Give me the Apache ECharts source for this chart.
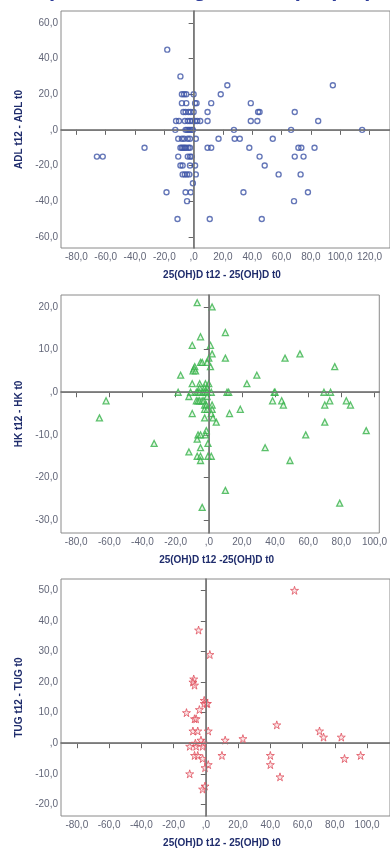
<!DOCTYPE html>
<html>
<head>
<meta charset="utf-8">
<script src="https://cdn.jsdelivr.net/npm/echarts@6/dist/echarts.min.js"></script>
<style>
  html, body { margin: 0; padding: 0; background: #fff; }
  #chart { width: 390px; height: 849px; }
</style>
</head>
<body>
<div id="chart"></div>
<script>
// ADL panel
const adlX = [-18, -9, 23, 95, -8, -6.5, -5, 0, 18.5, -8, -5, 1, 2, 12, 39,
  -7, -5.5, -3.5, -2, 0, 9.5, 44, 45, 69,
  -12, -10, -6, -4, -2.5, -1, 1, 2.5, 4.5, 9.5, 39, 43.5, 85,
  -12.5, -5.5, -4.5, -3.5, -2.5, -1.5, -0.5, 27.5, 66.5, 115,
  -10.5, -8, -6.5, -4, -2.5, 1.5, 17, 28, 31.5, 54,
  -33.5, -9, -8, -7, -6, -5, -3.5, -2.5, 9.5, 12, 38, 71.5, 73.5, 82.5,
  -66, -62, -10.5, -4, -2.5, -1.5, 45, 69, 75,
  -9, -7.5, -2.5, 1, 48.5,
  -7.5, -6, -4.5, -3, 1.5, 58, 73,
  -0.5, -18.5, -5.5, -2, 34, 78, -4.5, 68.5, -11, 11, 46.5];
const adlY = [45, 30, 25, 25, 20, 20, 20, 20, 20, 15, 15, 15, 15, 15, 15,
  10, 10, 10, 10, 10, 10, 10, 10, 10,
  5, 5, 5, 5, 5, 5, 5, 5, 5, 5, 5, 5, 5,
  0, 0, 0, 0, 0, 0, 0, 0, 0, 0,
  -5, -5, -5, -5, -5, -5, -5, -5, -5, -5,
  -10, -10, -10, -10, -10, -10, -10, -10, -10, -10, -10, -10, -10, -10,
  -15, -15, -15, -15, -15, -15, -15, -15, -15,
  -20, -20, -20, -20, -20,
  -25, -25, -25, -25, -25, -25, -25,
  -30, -35, -35, -35, -35, -35, -40, -40, -50, -50, -50];

// HK panel
const hkX = [-7, 2, 10, -5, -10, 1, 2, 55, 10, 46, 0, -5, -4, -1, 1, 76, -8.5, -9, -9.5, -8,
  -17, 29, -10, -5.5, -2, 0, 23, -5.5, -2.5, -1,
  -18.5, -11, -7.5, -6.5, -5.5, -3.5, -2.5, -1.5, -1, 1.5, 11, 12, 39.5, 40, 69.5, 73.5,
  -12, -1,
  -62, -7.5, -6.5, -5.5, -4, -3, 38.5, 44, 73, 83,
  -2.5, -1.5, 2, 45, 70, 85.5,
  -2.5, -1, 2, 19,
  -10, 1.5, 12.5,
  -66, -2.5, 2.5, 4.5, 70,
  95, -1.5, -6.5, -5, -2, 58.5,
  -7, -33, -0.5, -5, 34, -12, -7, -5, -0.5, 1.5, -5, 49, 10, -4, 79];
const hkY = [21, 20, 14, 13, 11, 11, 9, 9, 8, 8, 8, 7, 7, 7, 6, 6, 6, 5.5, 5, 5,
  4, 4, 2, 2, 2, 2, 2, 1, 1, 1,
  0, 0, 0, 0, 0, 0, 0, 0, 0, 0, 0, 0, 0, 0, 0, 0,
  -1, -1,
  -2, -2, -2, -2, -2, -2, -2, -2, -2, -2,
  -3, -3, -3, -3, -3, -3,
  -4, -4, -4, -4,
  -5, -5, -5,
  -6, -6, -6, -7, -7,
  -9, -9, -10, -10, -10, -10,
  -11, -12, -12, -13, -13, -14, -15, -15, -15, -15, -16, -16, -23, -27, -26];

// TUG panel
const tugX = [55, -4.5, 2.5, -7.5, -8, -7, -1, 0.5, -4, -12, -1, 1, -7, -6,
  -8, -5, 1.5, 44, 70.5, 73, 84, 12, 23, -3, -6.5, -1.5,
  -10, -6, -2, -7, -5, 10, 40, 96, -2, 86, 40, 1.5, -0.5, -10, 46, -0.5, -2];
const tugY = [50, 37, 29, 21, 20, 19, 14, 13, 11, 10, 13, 13, 8, 8,
  4, 4, 4, 6, 4, 2, 2, 1, 1.5, 1, 0, 0,
  -1, -1, -1, -4, -4, -4, -4, -4, -5, -5, -7, -7, -8, -10, -11, -14, -15];

// tick labels
const xTicksAdl = [-80, -60, -40, -20, 0, 20, 40, 60, 80, 100, 120];
const xTicksHk = [-80, -60, -40, -20, 0, 20, 40, 60, 80, 100];
const xTicksTug = [-80, -60, -40, -20, 0, 20, 40, 60, 80, 100];
const yTicksAdl = [-60, -40, -20, 0, 20, 40, 60];
const yTicksHk = [-30, -20, -10, 0, 10, 20];
const yTicksTug = [-20, -10, 0, 10, 20, 30, 40, 50];

const pairs = (xs, ys) => xs.map((x, i) => [x, ys[i]]);
const fmt = v => v === 0 ? ',0' : v.toFixed(1).replace('.', ',');

const font = '"Liberation Sans", Arial, sans-serif';
const nameStyle = { fontFamily: font, fontSize: 10, fontWeight: 'bold', color: '#1f2c6c' };

function xAx(idx, min, max, ticks, name) {
  return {
    type: 'value', gridIndex: idx, min: min, max: max,
    name: name, nameLocation: 'middle', nameGap: 22,
    nameTextStyle: Object.assign({ padding: [0, 7, 0, 0] }, nameStyle),
    axisLine: { lineStyle: { color: '#666', width: 1.5 } },
    axisTick: { customValues: ticks, length: 5, lineStyle: { color: '#666' } },
    axisLabel: { customValues: ticks, formatter: fmt, color: '#626678', fontSize: 10, fontFamily: font, margin: 4 },
    splitLine: { show: false }
  };
}
function yAx(idx, min, max, ticks, name) {
  return {
    type: 'value', gridIndex: idx, min: min, max: max,
    name: name, nameLocation: 'middle', nameGap: 35,
    nameTextStyle: nameStyle,
    axisLine: { lineStyle: { color: '#666', width: 1.5 } },
    axisTick: { customValues: ticks, length: 5, lineStyle: { color: '#666' } },
    axisLabel: { customValues: ticks, formatter: fmt, color: '#626678', fontSize: 10, fontFamily: font, margin: 3 },
    splitLine: { show: false }
  };
}

const zeroLines = {
  silent: true, symbol: ['none', 'none'], label: { show: false },
  lineStyle: { color: '#7a7a7a', type: 'solid', width: 1 },
  data: [{ xAxis: 0 }, { yAxis: 0 }], animation: false
};

const starPath = 'path://M50,0 L61,35 L98,35 L68,57 L79,91 L50,70 L21,91 L32,57 L2,35 L39,35 Z';

const chart = echarts.init(document.getElementById('chart'));
chart.setOption({
  animation: false,
  graphic: [{
    type: 'text', left: 0, top: -21,
    style: { text: 'Comparison: changes vs 25(OH)D (n=86)', font: 'bold 22px ' + font, fill: '#2e3d9a' }
  }],
  grid: [
    { left: 61, top: 11, width: 340, height: 237, show: true, borderColor: '#8a8a8a', borderWidth: 1 },
    { left: 61, top: 295, width: 340, height: 238, show: true, borderColor: '#8a8a8a', borderWidth: 1 },
    { left: 61, top: 579, width: 340, height: 238, show: true, borderColor: '#8a8a8a', borderWidth: 1 }
  ],
  xAxis: [
    xAx(0, -90.5, 134, xTicksAdl, '25(OH)D t12 - 25(OH)D t0'),
    xAx(1, -89.2, 102.9, xTicksHk, '25(OH)D t12 -25(OH)D t0'),
    xAx(2, -89.8, 114.2, xTicksTug, '25(OH)D t12 - 25(OH)D t0')
  ],
  yAxis: [
    yAx(0, -66.3, 66.7, yTicksAdl, 'ADL t12 - ADL t0'),
    yAx(1, -33, 22.8, yTicksHk, 'HK t12 - HK t0'),
    yAx(2, -23.8, 53.7, yTicksTug, 'TUG t12 - TUG t0')
  ],
  series: [
    {
      type: 'scatter', xAxisIndex: 0, yAxisIndex: 0, data: pairs(adlX, adlY),
      symbol: 'circle', symbolSize: 5,
      itemStyle: { color: 'rgba(255,255,255,0)', borderColor: '#3f55a6', borderWidth: 1.4 },
      markLine: zeroLines
    },
    {
      type: 'scatter', xAxisIndex: 1, yAxisIndex: 1, data: pairs(hkX, hkY),
      symbol: 'triangle', symbolSize: 6,
      itemStyle: { color: 'rgba(190,235,190,0.5)', borderColor: '#36b24a', borderWidth: 1.3 },
      markLine: zeroLines
    },
    {
      type: 'scatter', xAxisIndex: 2, yAxisIndex: 2, data: pairs(tugX, tugY),
      symbol: starPath, symbolSize: 8,
      itemStyle: { color: 'rgba(245,190,195,0.5)', borderColor: '#e0505e', borderWidth: 1 },
      markLine: zeroLines
    }
  ]
});
</script>
</body>
</html>
